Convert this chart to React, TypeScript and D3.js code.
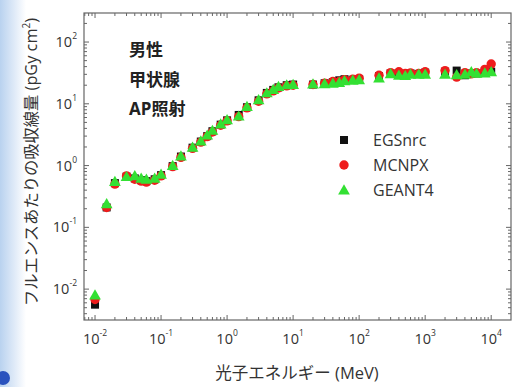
import React from 'react';
import * as d3 from 'd3';

// photon energy (MeV)
const energies = [0.01, 0.015, 0.02, 0.03, 0.04, 0.05, 0.06, 0.08, 0.1, 0.15, 0.2, 0.3, 0.4, 0.5, 0.6, 0.8, 1, 1.5, 2, 3, 4, 5, 6, 8, 10, 20, 30, 40, 50, 60, 80, 100, 200, 300, 400, 500, 600, 800, 1000, 2000, 3000, 4000, 5000, 6000, 8000, 10000];

// absorbed dose per fluence (pGy cm2)
const egsnrc = [0.0056, 0.21, 0.52, 0.66, 0.62, 0.58, 0.56, 0.6, 0.7, 0.98, 1.4, 1.95, 2.45, 3.0, 3.6, 4.6, 5.4, 6.6, 8.8, 11.4, 15.0, 16.8, 18.5, 20.0, 20.5, 20.5, 21.5, 22.5, 24.0, 25.0, 24.5, 25.0, 28.0, 31.0, 31.0, 30.0, 31.0, 30.5, 32.0, 33.0, 34.5, 29.0, 31.0, 31.0, 32.0, 33.0];
const mcnpx = [0.0068, 0.21, 0.5, 0.68, 0.6, 0.56, 0.54, 0.58, 0.68, 0.96, 1.36, 1.9, 2.4, 2.95, 3.5, 4.5, 5.3, 6.2, 8.6, 11.0, 14.5, 16.2, 18.0, 19.5, 20.0, 20.5, 21.5, 23.0, 23.0, 24.5, 25.0, 26.0, 29.0, 32.0, 33.0, 31.0, 31.5, 31.0, 33.0, 34.5, 27.0, 32.0, 30.5, 32.0, 36.0, 44.0];
const geant4 = [0.008, 0.24, 0.55, 0.66, 0.68, 0.62, 0.6, 0.62, 0.72, 1.0, 1.42, 1.98, 2.5, 3.1, 3.7, 4.7, 5.5, 6.3, 9.0, 11.6, 15.0, 17.0, 19.0, 20.2, 20.5, 20.8, 21.0, 21.5, 22.0, 23.5, 24.0, 24.5, 26.0, 30.5, 29.0, 28.5, 30.0, 30.0, 30.0, 30.0, 29.5, 30.0, 33.0, 31.0, 31.5, 33.0];

const seriesNames = ['EGSnrc', 'MCNPX', 'GEANT4'];
const annotations = ['男性', '甲状腺', 'AP照射'];
const xDecades = [-2, -1, 0, 1, 2, 3, 4];
const yDecades = [-2, -1, 0, 1, 2];

const W = 520, H = 387;
const left = 84, right = 511, top = 13, bottom = 320;
const FONT = "'Open Sans', 'Noto Sans CJK JP', sans-serif";

const x = d3.scaleLog().domain([Math.pow(10, -2.167), Math.pow(10, 4.3)]).range([left, right]);
const y = d3.scaleLog().domain([Math.pow(10, -2.5), Math.pow(10, 2.47)]).range([bottom, top]);

function minorTicks(scale: d3.ScaleLogarithmic<number, number>) {
  const [a, b] = scale.domain();
  const out: { v: number; major: boolean }[] = [];
  for (let e = Math.floor(Math.log10(a)); e <= Math.ceil(Math.log10(b)); e++) {
    for (let m = 1; m <= 9; m++) {
      const v = m * Math.pow(10, e);
      if (v >= a && v <= b) out.push({ v, major: m === 1 });
    }
  }
  return out;
}

const tri = d3.symbol(d3.symbolTriangle, 60)();

function Marker({ kind, cx, cy }: { kind: number; cx: number; cy: number }) {
  if (kind === 0) return <rect x={cx - 4} y={cy - 4} width={8} height={8} fill="#111" />;
  if (kind === 1) return <circle cx={cx} cy={cy} r={4.7} fill="#ee1c1c" />;
  return <path d={tri || ''} transform={`translate(${cx},${cy + 1})`} fill="#33e033" />;
}

export default function App() {
  const series = [egsnrc, mcnpx, geant4];
  const xt = minorTicks(x);
  const yt = minorTicks(y);
  const axisColor = '#666';
  return (
    <svg width={W} height={H} style={{ position: 'absolute', left: 0, top: 0, background: '#fff' }} fontFamily={FONT}>
      <defs>
        <linearGradient id="strip" x1="0" x2="1" y1="0" y2="0">
          <stop offset="0" stopColor="#b9d2ef" />
          <stop offset="0.55" stopColor="#dfeaf8" />
          <stop offset="1" stopColor="#ffffff" />
        </linearGradient>
      </defs>
      <rect x={0} y={0} width={26} height={H} fill="url(#strip)" />
      <circle cx={3} cy={378} r={7} fill="#2a52be" />

      {/* ticks on all four sides, pointing inward */}
      {xt.map((t, i) => {
        const px = x(t.v);
        const len = t.major ? 5 : 3;
        return (
          <g key={'xt' + i} stroke={axisColor} strokeWidth={1}>
            <line x1={px} x2={px} y1={bottom} y2={bottom - len} />
            <line x1={px} x2={px} y1={top} y2={top + len} />
          </g>
        );
      })}
      {yt.map((t, i) => {
        const py = y(t.v);
        const len = t.major ? 5 : 3;
        return (
          <g key={'yt' + i} stroke={axisColor} strokeWidth={1}>
            <line x1={left} x2={left + len} y1={py} y2={py} />
            <line x1={right} x2={right - len} y1={py} y2={py} />
          </g>
        );
      })}
      <rect x={left} y={top} width={right - left} height={bottom - top} fill="none" stroke={axisColor} strokeWidth={1.2} />

      {xDecades.map(e => (
        <text key={'xl' + e} x={x(Math.pow(10, e))} y={344} fontSize={14.5} fill="#333" textAnchor="middle">
          10<tspan fontSize={8.5} dy={-8}>{e}</tspan>
        </text>
      ))}
      {yDecades.map(e => (
        <text key={'yl' + e} x={77} y={y(Math.pow(10, e)) + 5} fontSize={14.5} fill="#333" textAnchor="end">
          10<tspan fontSize={8.5} dy={-8}>{e}</tspan>
        </text>
      ))}

      {series.map((vals, k) => (
        <g key={'s' + k}>
          {vals.map((v, i) => (
            <Marker key={i} kind={k} cx={x(energies[i])} cy={y(v)} />
          ))}
        </g>
      ))}

      {annotations.map((a, i) => (
        <text key={a} x={129} y={56 + i * 29.5} fontSize={17} fontWeight="bold" fill="#222">{a}</text>
      ))}

      {seriesNames.map((n, k) => (
        <g key={n}>
          <Marker kind={k} cx={344} cy={140 + k * 25} />
          <text x={373} y={146 + k * 25} fontSize={16} fill="#333">{n}</text>
        </g>
      ))}

      <text x={297} y={379} fontSize={16.5} fill="#333" textAnchor="middle">光子エネルギー (MeV)</text>
      <text transform="translate(37,162) rotate(-90)" fontSize={16.3} fill="#333" textAnchor="middle">
        フルエンスあたりの吸収線量 (pGy cm<tspan fontSize={10} dy={-7}>2</tspan><tspan dy={7}>)</tspan>
      </text>
    </svg>
  );
}
